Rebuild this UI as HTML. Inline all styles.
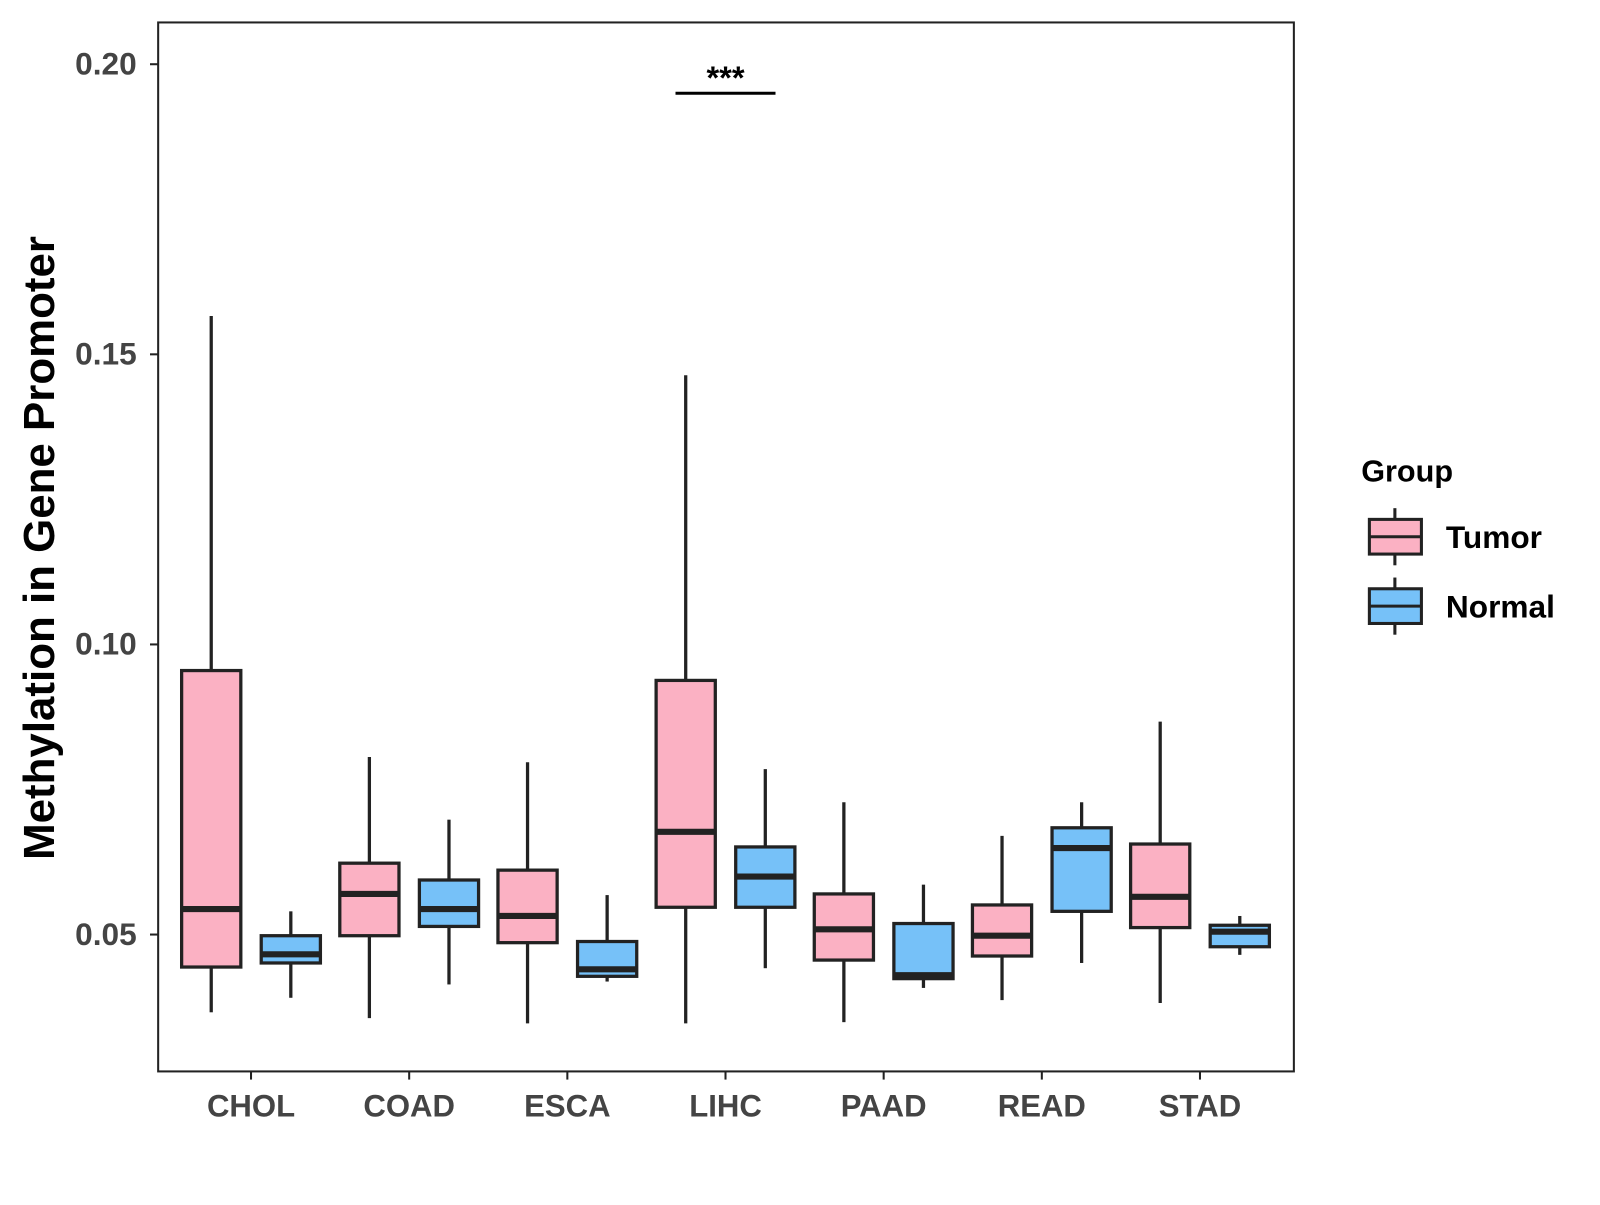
<!DOCTYPE html>
<html><head><meta charset="utf-8"><style>
html,body{margin:0;padding:0;background:#fff;}
svg text{font-family:"Liberation Sans",Arial,sans-serif;font-weight:bold;}
</style></head><body>
<svg id="chart" width="1600" height="1200" viewBox="0 0 1600 1200">
<rect x="0" y="0" width="1600" height="1200" fill="#fff"/>
<g id="plot" transform="scale(1.0204)"></g>
</svg>
<script>
const categories = ["CHOL","COAD","ESCA","LIHC","PAAD","READ","STAD"];
const groups = ["Tumor","Normal"];
// [low, q1, median, q3, high]
const tumorStats = [
 [0.0366,0.0444,0.0544,0.0955,0.1566],
 [0.0356,0.0498,0.0570,0.0623,0.0806],
 [0.0347,0.0486,0.0532,0.0611,0.0797],
 [0.0347,0.0547,0.0677,0.0938,0.1464],
 [0.0349,0.0456,0.0509,0.0570,0.0728],
 [0.0387,0.0463,0.0498,0.0551,0.0670],
 [0.0382,0.0512,0.0565,0.0656,0.0867]
];
const normalStats = [
 [0.0391,0.0451,0.0466,0.0498,0.0540],
 [0.0414,0.0514,0.0544,0.0594,0.0698],
 [0.0419,0.0428,0.0440,0.0488,0.0568],
 [0.0442,0.0547,0.0600,0.0651,0.0785],
 [0.0408,0.0424,0.0430,0.0519,0.0586],
 [0.0451,0.0540,0.0649,0.0684,0.0728],
 [0.0465,0.0479,0.0505,0.0516,0.0532]
];
const yTicks = [0.05,0.10,0.15,0.20];
const yTickLabels = ["0.05","0.10","0.15","0.20"];
const sigCategory = "LIHC";
const sigLevel = 0.1950;

const NS="http://www.w3.org/2000/svg";
const L=155,R=1268,T=22,B=1050;
const yMin=0.02641,yMax=0.2072;
const y=v=>B-(v-yMin)/(yMax-yMin)*(B-T);
const x=i=>246+i*155;
const colors=["#FBB1C3","#76C1F8"];
const g=document.getElementById('plot');
function el(tag,attrs,parent){const e=document.createElementNS(NS,tag);for(const k in attrs)e.setAttribute(k,attrs[k]);(parent||g).appendChild(e);return e;}

const frame=el('rect',{x:L,y:T,width:R-L,height:B-T,fill:'none',stroke:'#222','stroke-width':2});



yTicks.forEach((t,i)=>{
 const tk=el('line',{x1:L-8,x2:L,y1:y(t),y2:y(t),stroke:'#222','stroke-width':2});
 
 
 const tx=el('text',{x:L-21,y:y(t)+10,'text-anchor':'end','font-size':31,fill:'#444'});
 tx.textContent=yTickLabels[i];
 
 
});
categories.forEach((c,i)=>{
 const tk=el('line',{x1:x(i),x2:x(i),y1:B,y2:B+8,stroke:'#222','stroke-width':2});
 
 
 const tx=el('text',{x:x(i),y:B+44,'text-anchor':'middle','font-size':30.5,fill:'#444'});
 tx.textContent=c;
 
 
 [tumorStats[i],normalStats[i]].forEach((s,j)=>{
  const cx=x(i)+(j===0?-39:39), w=58;
  const bg=el('g',{});
  
  
  el('line',{x1:cx,x2:cx,y1:y(s[4]),y2:y(s[3]),stroke:'#222','stroke-width':3.2},bg);
  el('line',{x1:cx,x2:cx,y1:y(s[1]),y2:y(s[0]),stroke:'#222','stroke-width':3.2},bg);
  el('rect',{x:cx-w/2,y:y(s[3]),width:w,height:y(s[1])-y(s[3]),fill:colors[j],stroke:'#222','stroke-width':3.2},bg);
  el('line',{x1:cx-w/2,x2:cx+w/2,y1:y(s[2]),y2:y(s[2]),stroke:'#222','stroke-width':6},bg);
 });
});
const si=categories.indexOf(sigCategory);
const sl=el('line',{x1:x(si)-49,x2:x(si)+49,y1:y(sigLevel),y2:y(sigLevel),stroke:'#000','stroke-width':3});


const st=el('text',{x:x(si),y:y(sigLevel)-4,'text-anchor':'middle','font-size':32,fill:'#000'});
st.textContent='***';



const yt=el('text',{x:0,y:0,'text-anchor':'middle','font-size':43,fill:'#000',transform:'translate(53,537) rotate(-90)'});
yt.textContent='Methylation in Gene Promoter';



const lt=el('text',{x:1334,y:472,'font-size':30,fill:'#000'});
lt.textContent='Group';


groups.forEach((gname,j)=>{
 const cy=526+j*68;
 const lg=el('g',{});
 
 
 el('line',{x1:1367,x2:1367,y1:cy-28,y2:cy+28,stroke:'#222','stroke-width':3},lg);
 el('rect',{x:1342,y:cy-17,width:51,height:34,fill:colors[j],stroke:'#222','stroke-width':3},lg);
 el('line',{x1:1342,x2:1393,y1:cy,y2:cy,stroke:'#222','stroke-width':3},lg);
 const t=el('text',{x:1417,y:cy+11,'font-size':31,fill:'#000'},lg);
 t.textContent=gname;
});
</script>
</body></html>
